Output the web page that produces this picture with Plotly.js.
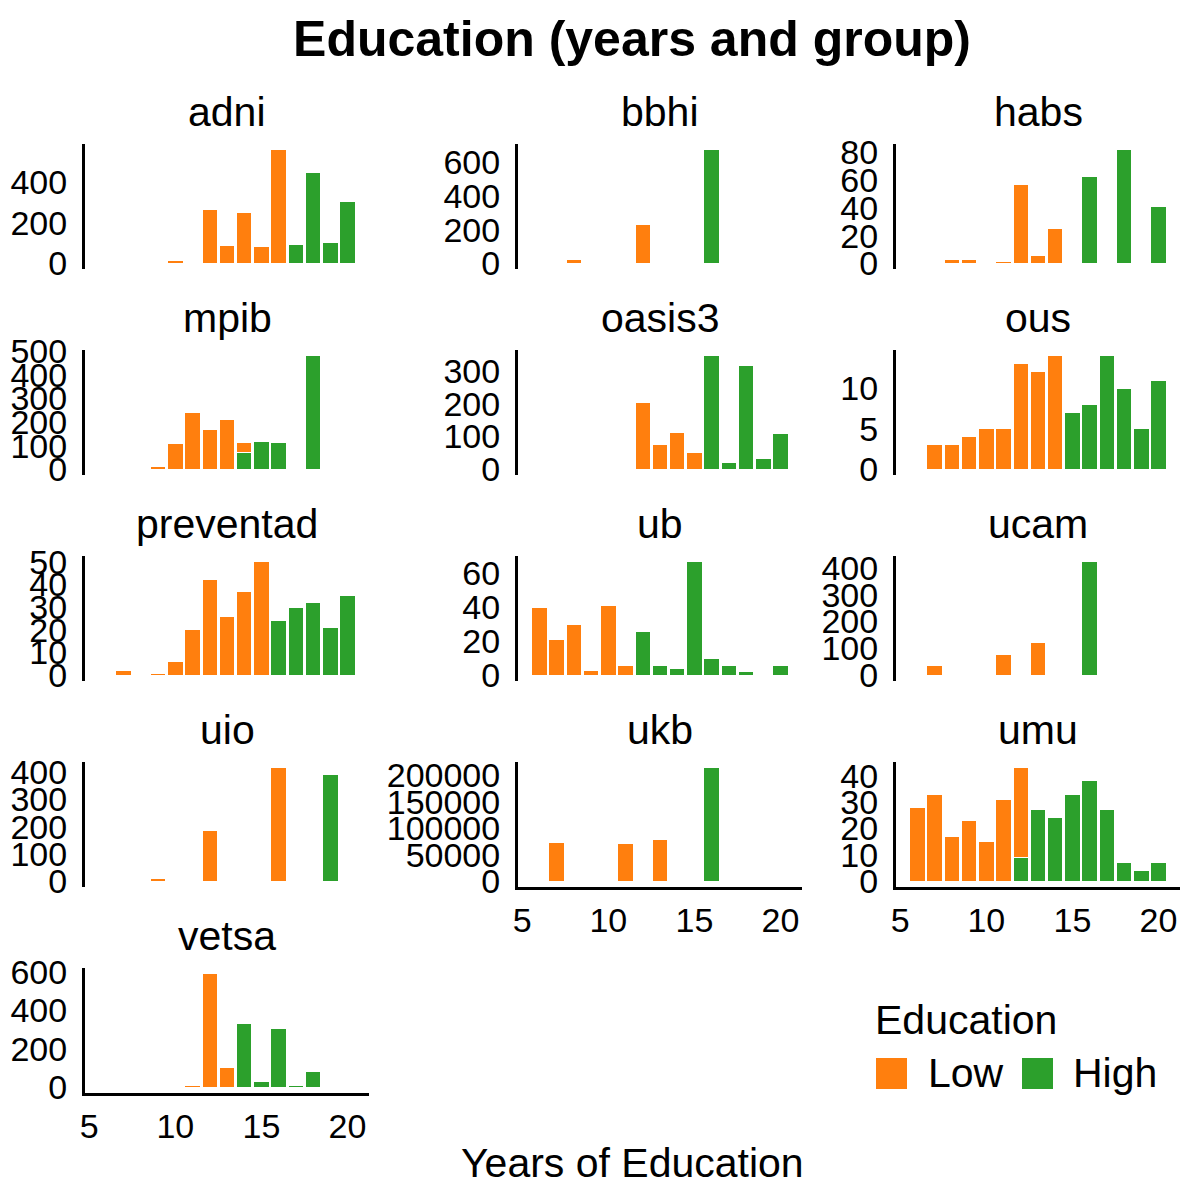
<!DOCTYPE html>
<html>
<head>
<meta charset="utf-8">
<script src="https://cdn.plot.ly/plotly-3.0.1.min.js"></script>
<style>html,body{margin:0;padding:0;background:#fff;}#chart{width:1182px;height:1182px;}</style>
</head>
<body>
<div id="chart"></div>
<script>
const _ = null;
// Years of education (bin centres)
const years = [6,7,8,9,10,11,12,13,14,15,16,17,18,19,20];
const xTickVals = [5,10,15,20];
const cohorts = ['adni','bbhi','habs','mpib','oasis3','ous','preventad','ub','ucam','uio','ukb','umu','vetsa'];
const groupNames = ['Low','High'];

// Counts per year, Low-education group and High-education group
const adniLow      = [_,_,1,_,14,5,266,89,250,83,562,_,_,_,_];
const adniHigh     = [_,_,_,_,_,_,_,_,_,_,_,95,448,101,305];
const bbhiLow      = [_,_,20,_,_,_,229,_,_,_,_,_,_,_,_];
const bbhiHigh     = [_,_,_,_,_,_,_,_,_,_,676,_,_,_,_];
const habsLow      = [_,_,3,3,_,1,57,6,25,_,_,_,_,_,_];
const habsHigh     = [_,_,_,_,_,_,_,_,_,_,63,_,82,_,41];
const mpibLow      = [_,_,_,10,108,242,169,211,40,_,_,_,_,_,_];
const mpibHigh     = [_,_,_,_,_,_,_,_,72,118,115,_,480,_,_];
const oasis3Low    = [_,_,2,_,2,3,203,77,112,52,_,_,_,_,_];
const oasis3High   = [_,_,_,_,_,_,_,_,_,_,347,20,318,33,108];
const ousLow       = [_,3,3,4,5,5,13,12,14,_,_,_,_,_,_];
const ousHigh      = [_,_,_,_,_,_,_,_,_,7,8,14,10,5,11];
const preventadLow = [_,2,_,1,6,20,42,26,37,50,_,_,_,_,_];
const preventadHigh= [_,_,_,_,_,_,_,_,_,_,24,30,32,21,35];
const ubLow        = [40,21,30,3,41,6,_,_,_,_,_,_,_,_,_];
const ubHigh       = [_,_,_,_,_,_,26,6,4,67,10,6,2,_,6];
const ucamLow      = [_,36,_,_,_,76,_,123,_,_,_,_,_,_,_];
const ucamHigh     = [_,_,_,_,_,_,_,_,_,_,423,_,_,_,_];
const uioLow       = [_,_,_,10,_,_,188,_,_,_,417,_,_,_,_];
const uioHigh      = [_,_,_,_,_,_,_,_,_,_,_,_,_,391,_];
const ukbLow       = [_,74100,_,_,_,71600,_,79900,_,_,_,_,_,_,_];
const ukbHigh      = [_,_,_,_,_,_,_,_,_,_,214700,_,_,_,_];
const umuLow       = [28,33,17,23,15,31,34,_,_,_,_,_,_,_,_];
const umuHigh      = [_,_,_,_,_,_,9,27,24,33,38,27,7,4,7];
const vetsaLow     = [_,_,_,_,4,10,590,105,_,_,_,_,_,_,_];
const vetsaHigh    = [_,_,_,_,_,_,_,_,332,32,305,10,84,_,6];

// y tick step per cohort
const yTickSteps = [200,200,20,100,100,5,10,20,100,100,50000,10,200];

const lowSeries  = [adniLow,bbhiLow,habsLow,mpibLow,oasis3Low,ousLow,preventadLow,ubLow,ucamLow,uioLow,ukbLow,umuLow,vetsaLow];
const highSeries = [adniHigh,bbhiHigh,habsHigh,mpibHigh,oasis3High,ousHigh,preventadHigh,ubHigh,ucamHigh,uioHigh,ukbHigh,umuHigh,vetsaHigh];

// ---- layout / styling ----
const W = 1182, H = 1182;
const colLeft = [85, 518, 896];
const panelW = 284;
const rowTop = [144, 350, 556, 762, 968];
const panelH = 125;
const lowColor = '#ff7f0e';
const highColor = '#2ca02c';
const FONT = 'Liberation Sans, Arial, sans-serif';
const bottomPanels = {'vetsa':true,'ukb':true,'umu':true};

const data = [];
const layout = {
  width: W, height: H,
  margin: {l:0, r:0, t:0, b:0},
  paper_bgcolor: '#ffffff',
  plot_bgcolor: 'rgba(0,0,0,0)',
  barmode: 'stack',
  bargap: 0,
  showlegend: false,
  font: {family: FONT, color: '#000000', size: 34},
  title: {
    text: 'Education (years and group)',
    x: 632 / W, xanchor: 'center', xref: 'paper',
    y: 1 - 38 / H, yanchor: 'middle', yref: 'paper',
    font: {family: FONT, size: 50, weight: 700, color: '#000000'}
  },
  annotations: [],
  shapes: []
};

cohorts.forEach((name, i) => {
  const col = i % 3, row = Math.floor(i / 3);
  const ax = i === 0 ? '' : String(i + 1);
  const xa = 'x' + ax, ya = 'y' + ax;
  const lows = lowSeries[i], highs = highSeries[i];
  let maxStack = 0;
  years.forEach((_y, k) => {
    const s = (lows[k] || 0) + (highs[k] || 0);
    if (s > maxStack) maxStack = s;
  });
  data.push({
    type: 'bar', x: years, y: highs, name: groupNames[1], width: 0.9,
    marker: {color: highColor, line: {color: '#ffffff', width: 1}},
    xaxis: xa, yaxis: ya, showlegend: false
  });
  data.push({
    type: 'bar', x: years, y: lows, name: groupNames[0], width: 0.9,
    marker: {color: lowColor, line: {color: '#ffffff', width: 1}},
    xaxis: xa, yaxis: ya, showlegend: false
  });
  const x0 = colLeft[col] / W, x1 = (colLeft[col] + panelW) / W;
  const yTop = 1 - rowTop[row] / H, yBot = 1 - (rowTop[row] + panelH) / H;
  const isBottom = !!bottomPanels[name];
  layout['xaxis' + ax] = {
    domain: [x0, x1], anchor: ya,
    range: [4.75, 21.25],
    showgrid: false, zeroline: false,
    showline: isBottom, linecolor: '#000000', linewidth: 3,
    showticklabels: isBottom,
    tickmode: 'array', tickvals: xTickVals, ticktext: xTickVals.map(String),
    ticks: '', ticklabelstandoff: 1,
    tickfont: {family: FONT, size: 34, color: '#000000'},
    fixedrange: true
  };
  layout['yaxis' + ax] = {
    domain: [yBot, yTop], anchor: xa,
    range: [-0.05 * maxStack, 1.05 * maxStack],
    showgrid: false, zeroline: false,
    showline: true, linecolor: '#000000', linewidth: 3,
    tickmode: 'linear', tick0: 0, dtick: yTickSteps[i],
    tickformat: 'd',
    ticks: '', ticklabelstandoff: 8,
    tickfont: {family: FONT, size: 34, color: '#000000'},
    fixedrange: true
  };
  layout.annotations.push({
    text: name, xref: 'paper', yref: 'paper',
    x: (colLeft[col] + panelW / 2) / W, y: 1 - (rowTop[row] - 32) / H,
    xanchor: 'center', yanchor: 'middle', showarrow: false,
    font: {family: FONT, size: 41, color: '#000000'}
  });
});

// x-axis title
layout.annotations.push({
  text: 'Years of Education', xref: 'paper', yref: 'paper',
  x: 632 / W, y: 1 - 1163 / H, xanchor: 'center', yanchor: 'middle',
  showarrow: false, font: {family: FONT, size: 41, color: '#000000'}
});

// legend (drawn manually so the keys can be large)
layout.annotations.push({
  text: 'Education', xref: 'paper', yref: 'paper',
  x: 873 / W, y: 1 - 1020 / H, xanchor: 'left', yanchor: 'middle',
  showarrow: false, font: {family: FONT, size: 41, color: '#000000'}
});
const legendKeys = [
  {label: groupNames[0], color: lowColor, sx: 876, tx: 926},
  {label: groupNames[1], color: highColor, sx: 1022, tx: 1071}
];
legendKeys.forEach(k => {
  layout.shapes.push({
    type: 'rect', xref: 'paper', yref: 'paper',
    x0: k.sx / W, x1: (k.sx + 31) / W, y0: 1 - 1089 / H, y1: 1 - 1058 / H,
    fillcolor: k.color, line: {width: 0}
  });
  layout.annotations.push({
    text: k.label, xref: 'paper', yref: 'paper',
    x: k.tx / W, y: 1 - 1073 / H, xanchor: 'left', yanchor: 'middle',
    showarrow: false, font: {family: FONT, size: 41, color: '#000000'}
  });
});

Plotly.newPlot('chart', data, layout, {staticPlot: true, displayModeBar: false});
</script>
</body>
</html>
